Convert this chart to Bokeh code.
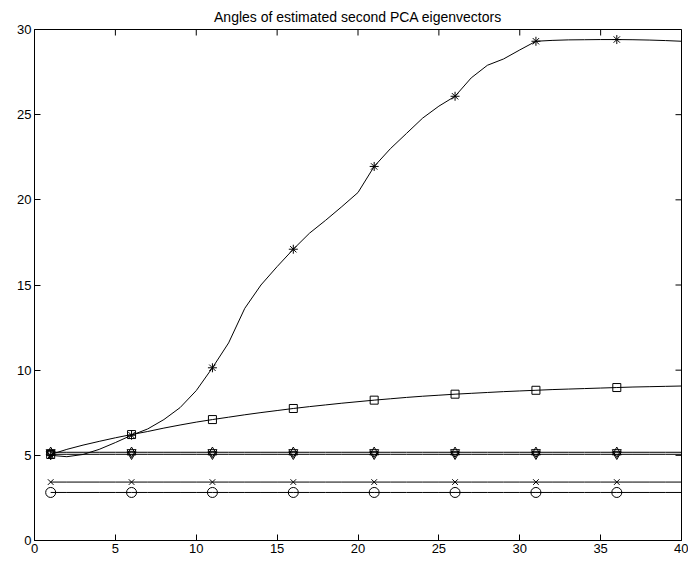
import math
from bokeh.plotting import figure
from bokeh.models import Range1d, FixedTicker
from bokeh.embed import file_html
from bokeh.resources import INLINE

# ---- data ----
x = list(range(1, 41))
star = [5.00, 4.92, 5.05, 5.35, 5.75, 6.18, 6.55, 7.10, 7.80, 8.80,
        10.14, 11.60, 13.63, 15.00, 16.08, 17.10, 18.04, 18.80, 19.60, 20.43,
        21.96, 23.00, 23.90, 24.80, 25.50, 26.08, 27.16, 27.90, 28.27, 28.80,
        29.31, 29.36, 29.39, 29.40, 29.41, 29.41, 29.40, 29.38, 29.35, 29.31]
square = [5.05, 5.35, 5.60, 5.82, 6.03, 6.22, 6.40, 6.60, 6.78, 6.95,
          7.10, 7.24, 7.38, 7.51, 7.63, 7.75, 7.86, 7.96, 8.06, 8.15,
          8.24, 8.32, 8.40, 8.47, 8.53, 8.59, 8.64, 8.69, 8.74, 8.78,
          8.82, 8.86, 8.89, 8.92, 8.95, 8.98, 9.01, 9.03, 9.05, 9.07]
hexagram = [5.18] * 40
tri_down = [5.06] * 40
cross = [3.43] * 40
circle = [2.82] * 40

title = "Angles of estimated second PCA eigenvectors"
x_ticks = [0, 5, 10, 15, 20, 25, 30, 35, 40]
y_ticks = [0, 5, 10, 15, 20, 25, 30]
x_min, x_max = 0, 40
y_min, y_max = 0, 30

FONT = "Liberation Sans"

p = figure(width=688, height=562, x_range=Range1d(x_min, x_max), y_range=Range1d(y_min, y_max),
           output_backend="svg", toolbar_location=None, title=title,
           min_border_left=34, min_border_right=7, min_border_top=29, min_border_bottom=22)
p.title.align = "center"
p.title.text_font = FONT
p.title.text_font_size = "14px"
p.title.text_font_style = "normal"
p.title.text_color = "black"
p.title.standoff = 10
p.grid.visible = False
p.outline_line_color = "black"
p.background_fill_color = "white"
p.border_fill_color = "white"

for ax, ticks in ((p.xaxis[0], x_ticks), (p.yaxis[0], y_ticks)):
    ax.ticker = FixedTicker(ticks=ticks)
    ax.major_tick_in = 6
    ax.major_tick_out = 0
    ax.minor_tick_line_color = None
    ax.axis_line_color = "black"
    ax.major_tick_line_color = "black"
    ax.major_label_text_font = FONT
    ax.major_label_text_color = "black"
    ax.major_label_text_font_size = "13px"
    ax.major_label_standoff = 3

# inward ticks on the top and right edges (clipped to the frame)
p.scatter(x_ticks, [y_max] * len(x_ticks), marker="dash", angle=math.pi / 2,
          size=12, line_color="black", line_width=1)
p.scatter([x_max] * len(y_ticks), y_ticks, marker="dash",
          size=12, line_color="black", line_width=1)

series = [
    (star, "asterisk", 9),
    (square, "square", 8),
    (hexagram, "triangle", 9),
    (tri_down, "inverted_triangle", 9),
    (cross, "x", 8),
    (circle, "circle", 10),
]
for ys, mk, sz in series:
    p.line(x, ys, line_color="black", line_width=1)
    mx = x[::5]
    my = ys[::5]
    p.scatter(mx, my, marker=mk, size=sz,
              line_color="black", fill_color=None, line_width=1)
    if mk == "triangle":
        p.scatter(mx, my, marker="inverted_triangle", size=sz,
                  line_color="black", fill_color=None, line_width=1)

open("out.html", "w").write(file_html(p, INLINE))
